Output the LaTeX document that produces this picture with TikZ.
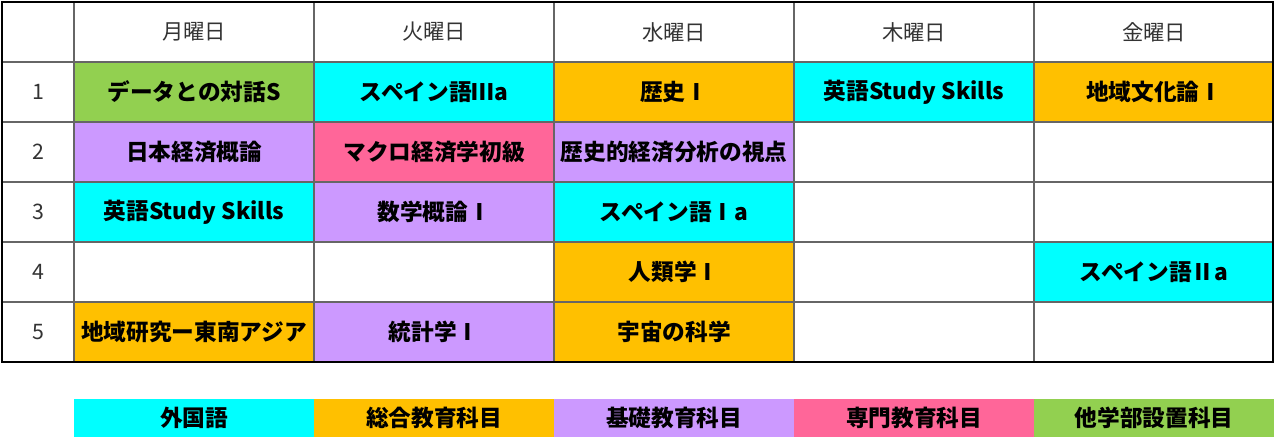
\documentclass[tikz,border=0pt]{standalone}
\usepackage{fontspec}
\setmainfont{Noto Sans CJK JP}
\definecolor{langcyan}{HTML}{00FFFF}
\definecolor{genorange}{HTML}{FFC000}
\definecolor{basepurple}{HTML}{CC99FF}
\definecolor{majorpink}{HTML}{FF6699}
\definecolor{othergreen}{HTML}{92D050}
\tikzset{
    subj/.style={font=\bfseries\fontsize{17}{20}\selectfont},
    head/.style={font=\fontsize{16}{19}\selectfont, text=black!80},
    grid/.style={draw=black!60, line width=0.8pt},
}
\begin{document}
\begin{tikzpicture}[x=0.75pt, y=-0.75pt]
        \useasboundingbox (0, 0) rectangle (1275, 447);
        % subject cells
        \foreach \c/\r/\fc/\txt in {1/1/othergreen/データとの対話S, 2/1/langcyan/スペイン語Ⅲa,
            3/1/genorange/歴史Ⅰ, 4/1/langcyan/英語Study Skills, 5/1/genorange/地域文化論Ⅰ,
            1/2/basepurple/日本経済概論, 2/2/majorpink/マクロ経済学初級,
            3/2/basepurple/歴史的経済分析の視点, 1/3/langcyan/英語Study Skills,
            2/3/basepurple/数学概論Ⅰ, 3/3/langcyan/スペイン語Ⅰa, 3/4/genorange/人類学Ⅰ,
            5/4/langcyan/スペイン語Ⅱa, 1/5/genorange/地域研究ー東南アジア,
            2/5/basepurple/統計学Ⅰ, 3/5/genorange/宇宙の科学} {
            \fill[\fc] ({74+(\c-1)*240}, {62+(\r-1)*60}) rectangle +(240, 60);
            \node[subj] (s\c\r) at ({194+(\c-1)*240}, {92+(\r-1)*60}) {\txt};
        }
        % grid
        \foreach \i in {0, ..., 4} {
            \draw[grid] ({74+\i*240}, 2) -- ({74+\i*240}, 362);
        }
        \foreach \i in {0, ..., 4} {
            \draw[grid] (2, {62+\i*60}) -- (1273, {62+\i*60});
        }
        \draw[line width=1.8pt] (2, 2) rectangle (1273, 362);
        % headers
        \foreach \d[count=\i] in {月曜日, 火曜日, 水曜日, 木曜日, 金曜日} {
            \node[head] (d\i) at ({194+(\i-1)*240}, 32) {\d};
        }
        \foreach \i in {1, ..., 5} {
            \node[head] (p\i) at (38, {92+(\i-1)*60}) {\i};
        }
        % legend
        \foreach \fc/\txt[count=\i] in {langcyan/外国語, genorange/総合教育科目,
            basepurple/基礎教育科目, majorpink/専門教育科目, othergreen/他学部設置科目} {
            \fill[\fc] ({74+(\i-1)*240}, 399) rectangle +(240, 38);
            \node[subj] (k\i) at ({194+(\i-1)*240}, 418) {\txt};
        }
    \end{tikzpicture}
\end{document}
